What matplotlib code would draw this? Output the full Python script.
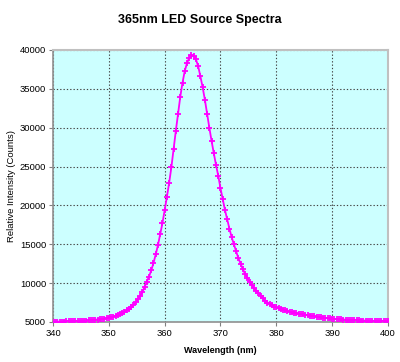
import numpy as np
import matplotlib
matplotlib.use("Agg")
import matplotlib.pyplot as plt

plt.rcParams['font.family'] = ['Liberation Sans', 'DejaVu Sans']

# Wavelength sampling (nm)
wavelength = np.round(np.arange(340.0, 400.0001, 0.4), 1)

# Relative intensity (counts)
intensity = [
    5040, 5040, 5045, 5050, 5055, 5060, 5065, 5075, 5085, 5095,
    5110, 5125, 5140, 5155, 5170, 5190, 5210, 5235, 5260, 5290,
    5320, 5355, 5395, 5440, 5490, 5550, 5620, 5700, 5790, 5890,
    6050, 6180, 6330, 6480, 6680, 6920, 7200, 7520, 7900, 8350,
    8850, 9500, 10200, 10850, 11650, 12600, 13700, 14900, 16300, 17700,
    19400, 21100, 22900, 24900, 27300, 29600, 31800, 34000, 35800, 37300,
    38300, 39000, 39300, 39250, 38800, 37900, 36600, 35200, 33600, 31800,
    30000, 28300, 26700, 25200, 23800, 22200, 20800, 19400, 18200, 17000,
    15900, 15000, 14100, 13200, 12500, 11800, 11200, 10700, 10200, 9750,
    9350, 9000, 8700, 8400, 8050, 7750, 7500, 7300, 7130, 6990,
    6870, 6770, 6660, 6560, 6480, 6400, 6320, 6250, 6180, 6120,
    6070, 6020, 5970, 5920, 5880, 5830, 5780, 5730, 5680, 5640,
    5600, 5560, 5520, 5490, 5460, 5430, 5400, 5380, 5350, 5330,
    5310, 5290, 5270, 5250, 5240, 5220, 5210, 5200, 5190, 5180,
    5170, 5160, 5150, 5140, 5130, 5125, 5120, 5110, 5105, 5100,
    5095,
]

x_ticks = [340, 350, 360, 370, 380, 390, 400]
y_ticks = [5000, 10000, 15000, 20000, 25000, 30000, 35000, 40000]

fig = plt.figure(figsize=(4.0, 3.62), dpi=100)
ax = fig.add_axes([0.1325, 0.1105, 0.8375, 0.7515])
ax.set_facecolor('#CCFFFF')

ax.plot(wavelength, intensity, color='#FF00FF', lw=1.3,
        marker='+', ms=3.8, mew=1.3, zorder=3)

ax.set_xlim(340, 400)
ax.set_ylim(5000, 40000)
ax.set_xticks(x_ticks)
ax.set_yticks(y_ticks)
ax.tick_params(labelsize=6.8, length=3, width=0.8, color='#808080', pad=2)
ax.grid(True, color='#444444', linestyle=(0, (1.2, 1.8)), lw=0.8, zorder=1)

for side in ['left', 'bottom']:
    ax.spines[side].set_color('#909090')
    ax.spines[side].set_linewidth(1.2)
for side in ['top', 'right']:
    ax.spines[side].set_color('#C0C0C0')
    ax.spines[side].set_linewidth(1.5)

ax.set_xlabel('Wavelength (nm)', fontsize=6.5, fontweight='bold', labelpad=6)
ax.set_ylabel('Relative Intensity (Counts)', fontsize=6.8, labelpad=3)
fig.text(0.5, 0.945, '365nm LED Source Spectra', ha='center', va='center',
         fontsize=9, fontweight='bold')

fig.savefig('out.png', dpi=100)
